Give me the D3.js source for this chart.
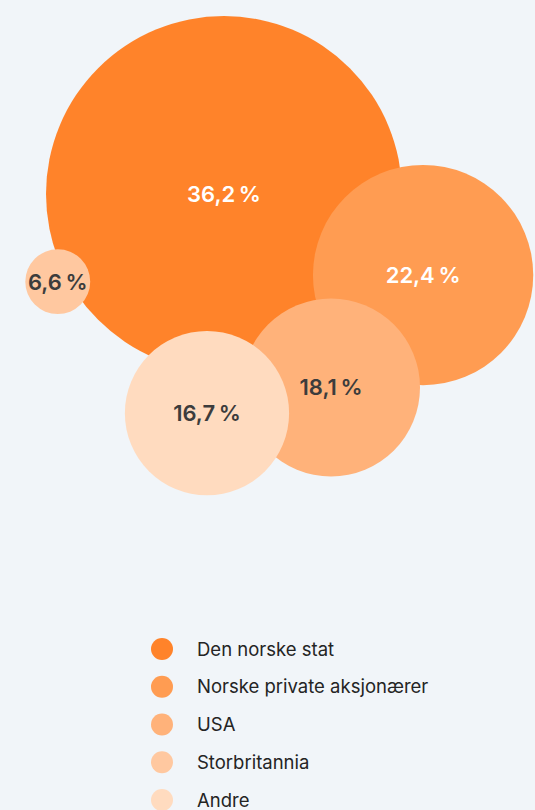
<!DOCTYPE html>
<html>
<head>
<meta charset="utf-8">
<script src="https://cdn.jsdelivr.net/npm/d3@7"></script>
<style>
  html, body { margin: 0; padding: 0; background: #f1f5f9; }
  svg { display: block; }
</style>
</head>
<body>
<svg id="chart" width="535" height="810"></svg>
<script>
// Shareholder groups and their ownership share (%)
const categories = ["Den norske stat", "Norske private aksjonærer", "USA", "Storbritannia", "Andre"];
const values = [36.2, 22.4, 18.1, 6.6, 16.7];
const colors = ["#ff832a", "#ff9c52", "#ffb27a", "#ffc8a0", "#ffdbbf"];
const labelColors = ["#ffffff", "#ffffff", "#3c3c3c", "#3c3c3c", "#3c3c3c"];

// Packing arrangement: direction (degrees) and spacing (share of summed radii)
// of each bubble measured from the largest bubble
const placeAngle = [0, 22.15, 61.05, 152.2, 94.44];
const placeSpacing = [0, 0.746, 0.828, 0.893, 0.845];

const width = 535, height = 810;
const svg = d3.select("#chart");

svg.append("rect").attr("width", width).attr("height", height).attr("fill", "#f1f5f9");

const r = d3.scaleLinear().domain([0, d3.max(values)]).range([0, 178]);

const data = categories.map((name, i) => ({
  name, value: values[i], color: colors[i], labelColor: labelColors[i], i
}));

// compute centres relative to the largest bubble
const r0 = r(values[0]);
data.forEach((d, i) => {
  const a = placeAngle[i] * Math.PI / 180;
  const dist = (r0 + r(d.value)) * placeSpacing[i];
  d.x = Math.cos(a) * dist;
  d.y = Math.sin(a) * dist;
});

const fmt = v => d3.format(".1f")(v).replace(".", ",") + "\u2009%";

const pack = svg.append("g").attr("transform", "translate(224,194)");

const bubble = pack.selectAll("g.bubble")
  .data(data)
  .join("g")
  .attr("class", "bubble")
  .attr("transform", d => `translate(${d.x},${d.y})`);

bubble.append("circle")
  .attr("r", d => r(d.value))
  .attr("fill", d => d.color);

bubble.append("text")
  .attr("text-anchor", "middle")
  .attr("dy", "0.36em")
  .attr("fill", d => d.labelColor)
  .style("font-family", "Inter, 'Noto Sans', sans-serif")
  .style("font-weight", 600)
  .style("font-size", "22px")
  .text(d => fmt(d.value));

// Legend
const legend = svg.append("g").attr("transform", "translate(162,649)");
const ly = d3.scalePoint().domain(categories).range([0, 151]);

const item = legend.selectAll("g.item")
  .data(data)
  .join("g")
  .attr("class", "item")
  .attr("transform", d => `translate(0,${ly(d.name)})`);

item.append("circle").attr("r", 11).attr("fill", d => d.color);

item.append("text")
  .attr("x", 35)
  .attr("dy", "0.36em")
  .attr("fill", "#242424")
  .style("font-family", "Inter, 'Noto Sans', sans-serif")
  .style("font-weight", 400)
  .style("font-size", "18.5px")
  .text(d => d.name);
</script>
</body>
</html>
